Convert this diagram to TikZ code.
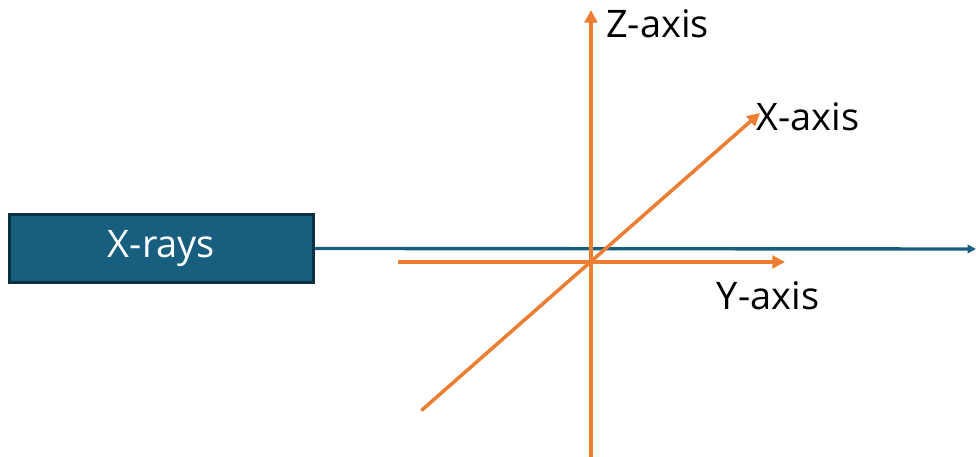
\documentclass[tikz,border=0pt]{standalone}
\usepackage{fontspec}
\setmainfont{Open Sans}
\usetikzlibrary{arrows.meta,positioning}
\definecolor{raysblue}{HTML}{175E7F}
\definecolor{raysdark}{HTML}{0B3044}
\definecolor{axisorange}{HTML}{ED7D31}
\begin{document}
\begin{tikzpicture}[x=0.025cm, y=-0.025cm,
    axis/.style={axisorange, line width=2.5pt, -{Triangle[length=9pt, width=9pt]}},
    lbl/.style={font=\fontsize{27}{32}\selectfont, inner sep=0pt}]
    \useasboundingbox (0,0) rectangle (976,457);

    % source box and beam
    \node[draw=raysdark, line width=2pt, fill=raysblue, text=white,
          minimum width=7.6cm, minimum height=1.68cm, lbl] (xray) at (161.5,248.5) {X-rays};
    \coordinate (beamend) at (976,249);
    \draw[raysblue, line width=2.4pt, -{Triangle[length=6pt, width=6pt]}] (xray.east) -- (beamend);

    % axes
    \coordinate (zlow) at (591,457);
    \coordinate (ztip) at (591,10);
    \coordinate (ylow) at (398,262);
    \coordinate (ytip) at (785,262);
    \coordinate (xlow) at (422,410);
    \coordinate (xtip) at (760,113);
    \draw[axis] (zlow) -- (ztip);
    \draw[axis] (ylow) -- (ytip);
    \draw[axis, line cap=round] (xlow) -- (xtip);

    \node[lbl, anchor=west] (zlab) at (606,24) {Z-axis};
    \node[lbl, anchor=west] (xlab) at (756,117) {X-axis};
    \node[lbl] (ylab) at (768,296) {Y-axis};
\end{tikzpicture}
\end{document}
